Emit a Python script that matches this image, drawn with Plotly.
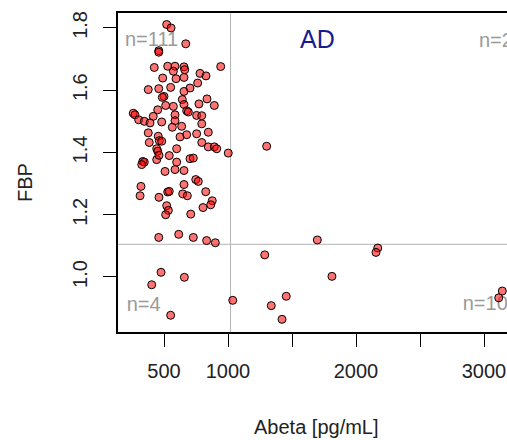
import plotly.graph_objects as go

# ---- data ----
abeta = [521, 555, 670, 459, 459, 424, 529, 586, 656, 662, 573, 943, 490, 594, 656, 781, 828, 763,
         377, 459, 552, 703, 656, 500, 487, 643, 836, 773, 893, 513, 573, 656, 451, 677, 690, 260,
         273, 416, 586, 755, 795, 302, 346, 391, 482, 586, 638, 565, 795, 377, 455, 677, 755, 846,
         625, 385, 463, 482, 795, 846, 893, 912, 1002, 599, 443, 451, 541, 334, 346, 443, 461, 599,
         703, 729, 1302, 326, 586, 508, 656, 748, 768, 320, 656, 826, 313, 461, 529, 541, 646, 682,
         877, 865, 805, 521, 534, 513, 709, 459, 615, 729, 833, 901, 477, 659, 404, 552, 1698, 1287,
         2170, 2156, 1812, 1037, 1455, 1338, 1422, 3143, 3115]
fbp = [1.811, 1.800, 1.749, 1.727, 1.722, 1.673, 1.677, 1.677, 1.675, 1.666, 1.661, 1.676, 1.639,
       1.637, 1.641, 1.654, 1.646, 1.623, 1.602, 1.605, 1.609, 1.607, 1.596, 1.580, 1.577, 1.570,
       1.572, 1.556, 1.551, 1.551, 1.548, 1.554, 1.537, 1.534, 1.530, 1.526, 1.521, 1.516, 1.521,
       1.519, 1.518, 1.505, 1.500, 1.495, 1.498, 1.502, 1.484, 1.481, 1.492, 1.463, 1.452, 1.457,
       1.460, 1.465, 1.450, 1.432, 1.438, 1.436, 1.432, 1.418, 1.418, 1.412, 1.398, 1.412, 1.412,
       1.404, 1.390, 1.371, 1.369, 1.377, 1.391, 1.369, 1.380, 1.382, 1.420, 1.361, 1.345, 1.339,
       1.342, 1.313, 1.307, 1.291, 1.297, 1.274, 1.261, 1.256, 1.273, 1.275, 1.267, 1.261, 1.245,
       1.232, 1.223, 1.229, 1.214, 1.200, 1.202, 1.127, 1.137, 1.127, 1.117, 1.110, 1.015, 0.999,
       0.975, 0.877, 1.119, 1.071, 1.093, 1.079, 1.002, 0.925, 0.938, 0.908, 0.864, 0.955, 0.933]

abeta_cut = 1020
fbp_cut = 1.105

x_tickvals = [500, 1000, 1500, 2000, 2500, 3000]
x_ticktext = ["500", "1000", "", "2000", "", "3000"]
y_tickvals = [1.0, 1.2, 1.4, 1.6, 1.8]
y_ticktext = ["1.0", "1.2", "1.4", "1.6", "1.8"]

count_labels = ["n=111", "n=2", "n=4", "n=10"]
count_x = [195, 2961, 209, 2834]
count_y = [1.759, 1.754, 0.9055, 0.911]

title_text = "AD"
x_title = "Abeta [pg/mL]"
y_title = "FBP"

FONT = "Liberation Sans, Arial, sans-serif"

fig = go.Figure()

fig.add_trace(go.Scatter(
    x=count_x, y=count_y, text=count_labels, mode="text",
    textposition="middle right", cliponaxis=True,
    textfont=dict(family=FONT, size=20, color="#9a9a9a"),
    hoverinfo="skip", showlegend=False))

fig.add_trace(go.Scatter(
    x=abeta, y=fbp, mode="markers", cliponaxis=True,
    marker=dict(size=8, color="rgba(255,0,0,0.55)",
                line=dict(color="black", width=1)),
    showlegend=False))

fig.add_shape(type="line", xref="x", yref="paper", x0=abeta_cut, x1=abeta_cut, y0=0, y1=1,
              line=dict(color="#b4b4b4", width=1), layer="below")
fig.add_shape(type="line", xref="paper", yref="y", x0=0, x1=1, y0=fbp_cut, y1=fbp_cut,
              line=dict(color="#b4b4b4", width=1), layer="below")

fig.add_annotation(x=1699, y=1.765, xref="x", yref="y", text=title_text, showarrow=False,
                   xanchor="center", yanchor="middle",
                   font=dict(family=FONT, size=25, color="#1a1a8f"))
fig.add_annotation(x=316, y=427, xref="paper", yref="paper", text=x_title, showarrow=False,
                   xanchor="center", yanchor="middle",
                   font=dict(family=FONT, size=20, color="#222222"))
fig.add_annotation(x=25, y=183, xref="paper", yref="paper", text=y_title, showarrow=False,
                   xanchor="center", yanchor="middle",
                   textangle=-90, font=dict(family=FONT, size=20, color="#222222"))

W, H = 507, 440
ml, mt, mb = 118, 13, 108
# convert pixel placements for the axis-title annotations into paper coordinates
for ann in fig.layout.annotations[1:]:
    px, py = ann.x, ann.y
    ann.x = (px - ml) / (W - ml)
    ann.y = (H - mb - py) / (H - mb - mt)

fig.update_layout(
    width=W, height=H, autosize=False,
    margin=dict(l=ml, r=0, t=mt, b=mb, pad=0),
    paper_bgcolor="white", plot_bgcolor="white",
    font=dict(family=FONT, size=20, color="#222222"),
    xaxis=dict(range=[140.6, 3179.7], tickvals=x_tickvals, ticktext=x_ticktext,
               showgrid=False, zeroline=False, showline=True, mirror=True,
               linecolor="black", linewidth=1.5, ticks="outside", ticklen=13,
               tickwidth=1.3, tickcolor="black", ticklabelstandoff=7, automargin=False),
    yaxis=dict(range=[0.8233, 1.848], tickvals=y_tickvals, ticktext=y_ticktext,
               showgrid=False, zeroline=False, showline=True, mirror=False,
               linecolor="black", linewidth=1.5, ticks="outside", ticklen=13,
               tickwidth=1.3, tickcolor="black", tickangle=-90, ticklabelstandoff=8,
               automargin=False),
)

fig.write_html("out.html", config={"displayModeBar": False},
               post_script="document.body.style.margin='0';document.body.style.overflow='hidden';")
